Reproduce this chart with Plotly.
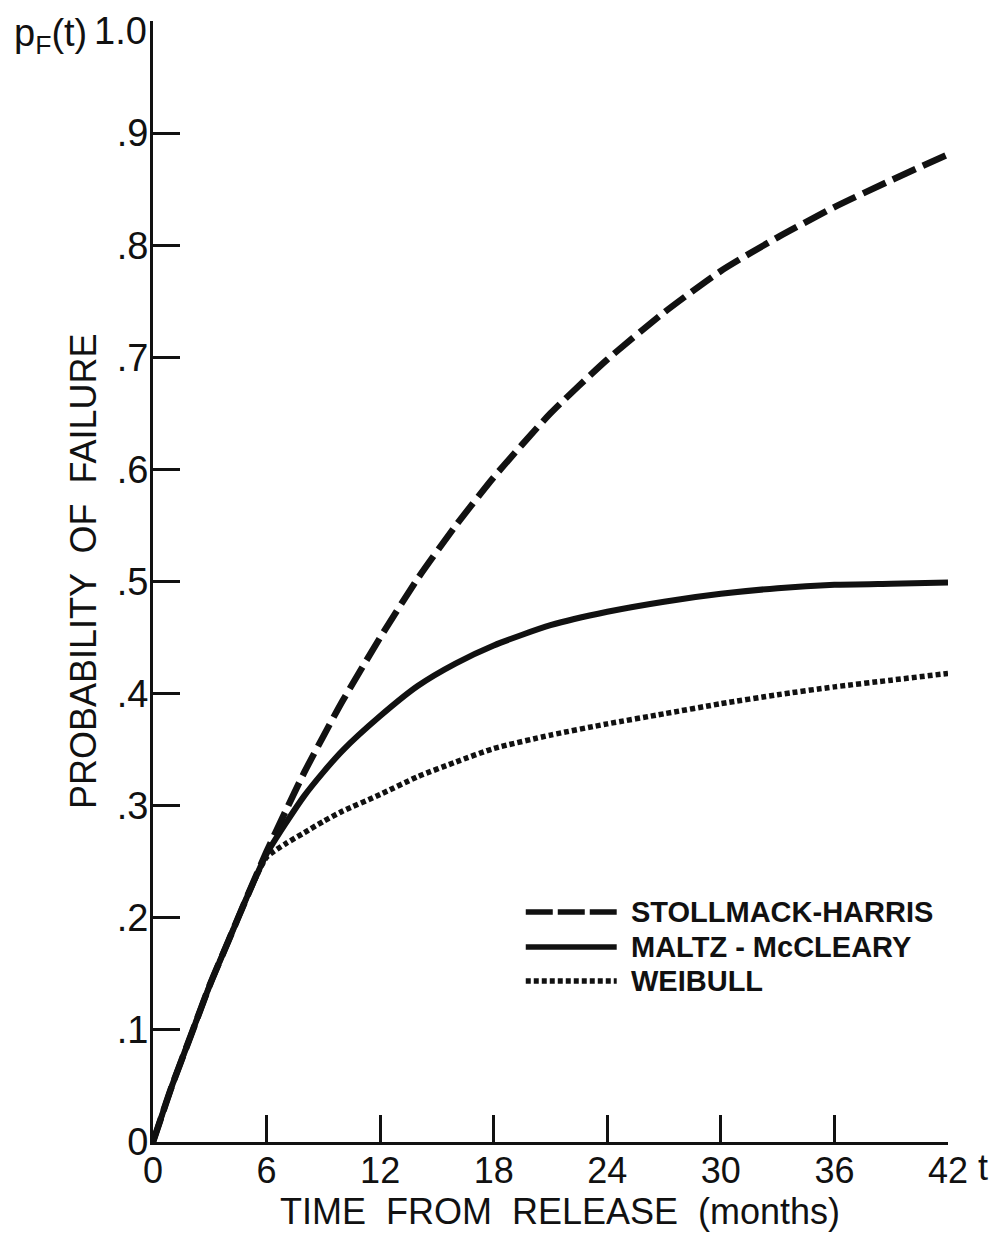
import plotly.graph_objects as go

# ---- data ----
months = [0, 1, 2, 3, 4, 5, 6, 7, 8, 9, 10, 12, 14, 16, 18, 21, 24, 27, 30, 33, 36, 39, 42]
stollmack_harris = [0.0, 0.05, 0.095, 0.14, 0.18, 0.22, 0.259, 0.295, 0.33, 0.362, 0.393, 0.45, 0.503,
                    0.55, 0.593, 0.65, 0.698, 0.74, 0.777, 0.807, 0.834, 0.858, 0.881]
maltz_mccleary = [0.0, 0.05, 0.095, 0.14, 0.18, 0.22, 0.257, 0.284, 0.309, 0.33, 0.349, 0.38, 0.407,
                  0.427, 0.443, 0.461, 0.473, 0.482, 0.489, 0.494, 0.497, 0.498, 0.499]
weibull = [0.0, 0.05, 0.095, 0.14, 0.18, 0.22, 0.254, 0.266, 0.276, 0.286, 0.295, 0.31, 0.326,
           0.339, 0.351, 0.363, 0.373, 0.382, 0.391, 0.399, 0.406, 0.412, 0.418]

series_names = ["STOLLMACK-HARRIS", "MALTZ - McCLEARY", "WEIBULL"]

x_ticks = [0, 6, 12, 18, 24, 30, 36, 42]
x_ticktext = ["0", "6", "12", "18", "24", "30", "36", "42"]
y_ticks = [0, 0.1, 0.2, 0.3, 0.4, 0.5, 0.6, 0.7, 0.8, 0.9, 1.0]
y_ticktext = ["0", ".1", ".2", ".3", ".4", ".5", ".6", ".7", ".8", ".9", "1.0"]

INK = "#111111"
FONT = "Liberation Sans, Arial, sans-serif"

styles = [
    dict(width=6.5, dash="25px,8px"),
    dict(width=6, dash="solid"),
    dict(width=5.5, dash="5px,3px"),
]
legend_styles = [
    dict(width=5.5, dash="27px,5px"),
    dict(width=5.5, dash="solid"),
    dict(width=5.5, dash="5px,3px"),
]

fig = go.Figure()
for name, ys, st in zip(series_names, [stollmack_harris, maltz_mccleary, weibull], styles):
    fig.add_trace(go.Scatter(
        x=months, y=ys, mode="lines", name=name, showlegend=False,
        line=dict(color=INK, width=st["width"], dash=st["dash"], shape="spline", smoothing=0.6),
    ))

# The page body has an 8px margin, so the figure is 984x1224 and every
# reference-pixel position is shifted by -8.
OFF = 8
FW, FH = 1000 - 2 * OFF, 1240 - 2 * OFF
L, R, T, B = 153 - OFF, 948.5 - OFF, 21 - OFF, 1142 - OFF
PW, PH = R - L, B - T


def px(xp):
    return (xp - OFF - L) / PW


def py(yp):
    return (B - (yp - OFF)) / PH


# legend drawn as key lines + labels
legend_y = [912, 947, 981]
for name, st, yy in zip(series_names, legend_styles, legend_y):
    fig.add_shape(type="line", xref="paper", yref="paper",
                  x0=px(526), x1=px(617), y0=py(yy), y1=py(yy),
                  line=dict(color=INK, width=st["width"], dash=st["dash"]))
    fig.add_annotation(text=name, xref="paper", yref="paper", x=px(629), y=py(yy),
                       xanchor="left", yanchor="middle", showarrow=False,
                       font=dict(family=FONT, size=29, color=INK, weight="bold"))

# top y tick label (placed as text just inside the page top so it is not clipped)
top_label = y_ticktext[-1]
y_ticktext_axis = y_ticktext[:-1] + [""]
fig.add_annotation(text=top_label, xref="paper", yref="paper",
                   x=px(149), y=py(OFF), showarrow=False,
                   xanchor="right", yanchor="top",
                   font=dict(family=FONT, size=38, color=INK))

# axis titles and extra labels
fig.add_annotation(text="PROBABILITY  OF  FAILURE", xref="paper", yref="paper",
                   x=px(83), y=py(572), textangle=-90, showarrow=False,
                   xanchor="center", yanchor="middle",
                   font=dict(family=FONT, size=36, color=INK))
fig.add_annotation(text="TIME \u00a0FROM \u00a0RELEASE \u00a0(months)", xref="paper", yref="paper",
                   x=px(560), y=py(1211), showarrow=False,
                   xanchor="center", yanchor="middle",
                   font=dict(family=FONT, size=36, color=INK))
fig.add_annotation(text="t", xref="paper", yref="paper",
                   x=px(984), y=py(1167), showarrow=False,
                   xanchor="center", yanchor="middle",
                   font=dict(family=FONT, size=36, color=INK))
fig.add_annotation(text="p<sub>F</sub>(t)", xref="paper", yref="paper",
                   x=px(50), y=py(36), showarrow=False,
                   xanchor="center", yanchor="middle",
                   font=dict(family=FONT, size=38, color=INK))

fig.update_xaxes(
    range=[0, 42], tickvals=x_ticks, ticktext=x_ticktext,
    showline=True, linecolor=INK, linewidth=3,
    ticks="inside", ticklen=27, tickwidth=2.5, tickcolor=INK,
    showgrid=False, zeroline=False, automargin=False,
    tickfont=dict(family=FONT, size=36, color=INK),
    ticklabelstandoff=-5, ticklabeloverflow="allow",
)
fig.update_yaxes(
    range=[0, 1.0], tickvals=y_ticks, ticktext=y_ticktext_axis,
    showline=True, linecolor=INK, linewidth=3,
    ticks="inside", ticklen=27, tickwidth=2.5, tickcolor=INK,
    showgrid=False, zeroline=False, automargin=False,
    tickfont=dict(family=FONT, size=38, color=INK),
    ticklabelstandoff=-6, ticklabeloverflow="allow",
)

fig.update_layout(
    width=FW, height=FH,
    margin=dict(l=L, r=FW - R, t=T, b=FH - B, autoexpand=False),
    paper_bgcolor="white", plot_bgcolor="white",
    showlegend=False,
)

fig.write_html("out.html")
